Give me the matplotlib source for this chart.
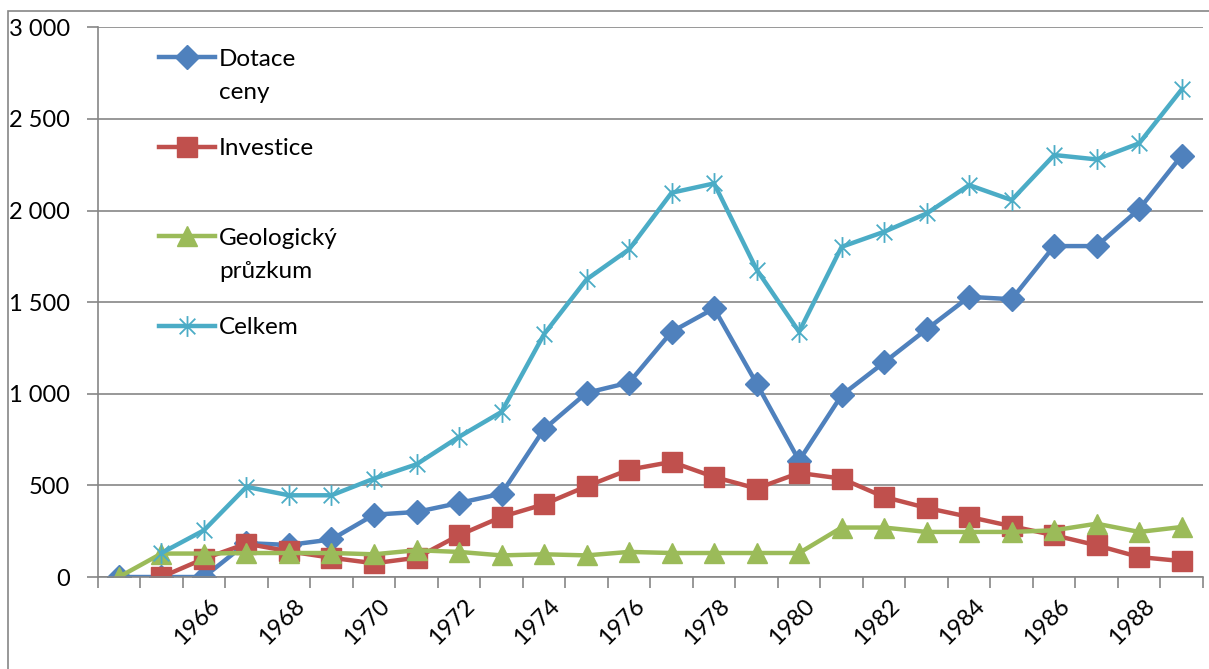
import matplotlib
matplotlib.use("Agg")

import matplotlib.pyplot as plt
import matplotlib.transforms as mtransforms
import numpy as np
from matplotlib.path import Path
from matplotlib.patches import Rectangle
from matplotlib.ticker import FuncFormatter, FixedLocator

plt.rcParams["font.family"] = ["Lato", "DejaVu Sans"]

years = list(range(1964, 1990))
label_years = [1966, 1968, 1970, 1972, 1974, 1976, 1978, 1980, 1982, 1984, 1986, 1988]

dotace = [0, 0, 0, 185, 175, 205, 340, 355, 404, 455, 807, 1005, 1061, 1338, 1466, 1056,
          635, 992, 1171, 1352, 1529, 1516, 1806, 1806, 2008, 2300]
investice = [np.nan, 0, 100, 182, 140, 105, 75, 105, 228, 328, 397, 495, 586, 628, 546, 483,
             568, 537, 437, 377, 328, 277, 228, 173, 109, 87]
geologie = [0, 128, 128, 131, 131, 131, 124, 146, 137, 118, 124, 118, 137, 131, 131, 131,
            131, 270, 270, 246, 246, 246, 255, 291, 246, 273]
celkem = [np.nan, 131, 255, 492, 446, 446, 537, 615, 765, 901, 1325, 1624, 1788, 2097, 2148, 1678,
          1338, 1802, 1884, 1984, 2139, 2057, 2303, 2279, 2367, 2661]

# legend label: first line goes into the legend, second line is added below it
series = [
    ("Dotace", "ceny", dotace, "#4F81BD", "D", 12.5),
    ("Investice", "", investice, "#C0504D", "s", 14),
    ("Geologický", "průzkum", geologie, "#9BBB59", "^", 14),
    ("Celkem", "", celkem, "#4BACC6", None, 15),
]

# Excel "star" marker: vertical bar plus X
star = Path(
    [(0, -1), (0, 1), (-0.75, -0.75), (0.75, 0.75), (-0.75, 0.75), (0.75, -0.75)],
    [Path.MOVETO, Path.LINETO, Path.MOVETO, Path.LINETO, Path.MOVETO, Path.LINETO],
)

fig = plt.figure(figsize=(12.09, 6.69), dpi=100)
ax = fig.add_axes([0.0808, 0.1375, 0.9142, 0.8217])

x = np.arange(len(years))
for label, _, values, color, marker, ms in series:
    if marker is None:
        ax.plot(x, values, color=color, lw=3.2, marker=star, ms=ms,
                markeredgewidth=1.3, markeredgecolor=color, label=label)
    else:
        ax.plot(x, values, color=color, lw=3.2, marker=marker, ms=ms,
                markeredgecolor=color, label=label)

ax.set_xlim(-0.5, len(years) - 0.5)
ax.set_ylim(0, 3000)
ax.set_yticks(np.arange(0, 3001, 500))
ax.yaxis.set_major_formatter(FuncFormatter(lambda v, p: f"{int(v):,}".replace(",", " ")))
ax.grid(axis="y", color="#868686", lw=1.2)
ax.set_axisbelow(True)

# category boundaries as ticks, year labels in between
ax.xaxis.set_major_locator(FixedLocator(np.arange(-0.5, len(years), 1.0)))
ax.xaxis.set_major_formatter(FuncFormatter(lambda v, p: ""))
ax.xaxis.set_minor_locator(FixedLocator([years.index(y) for y in label_years]))
ax.set_xticklabels([str(y) for y in label_years], minor=True)
ax.tick_params(axis="x", which="major", length=8, width=1.2, color="#868686", direction="out")
ax.tick_params(axis="x", which="minor", length=0, pad=13, labelsize=17)
shift = mtransforms.ScaledTranslation(5 / 100, 0, fig.dpi_scale_trans)
for t in ax.get_xticklabels(minor=True):
    t.set_rotation(45)
    t.set_ha("right")
    t.set_va("top")
    t.set_rotation_mode("anchor")
    t.set_transform(t.get_transform() + shift)
ax.tick_params(axis="y", length=8, width=1.2, color="#868686", pad=12, labelsize=17)

for side in ["top", "right"]:
    ax.spines[side].set_visible(False)
for side in ["left", "bottom"]:
    ax.spines[side].set_color("#868686")
    ax.spines[side].set_linewidth(1.2)

leg = ax.legend(loc="upper left", bbox_to_anchor=(0.047, 0.979), frameon=False,
                fontsize=17.5, handlelength=2.3, handletextpad=0.15, labelspacing=2.82,
                borderaxespad=0)
for text, (_, second, *_rest) in zip(leg.get_texts(), series):
    if second:
        ax.annotate(second, xy=(0, 0), xycoords=text, xytext=(0, -33),
                    textcoords="offset pixels", ha="left", va="bottom",
                    fontsize=17.5, zorder=10)

# outer chart border (only left and top edge fall inside the picture)
fig.patches.append(Rectangle((8.3 / 1209, -0.1), 1.2, 0.1 + 657.5 / 669,
                             transform=fig.transFigure, fill=False,
                             edgecolor="#868686", lw=1.2, clip_on=False))

fig.savefig("out.png", dpi=100)
